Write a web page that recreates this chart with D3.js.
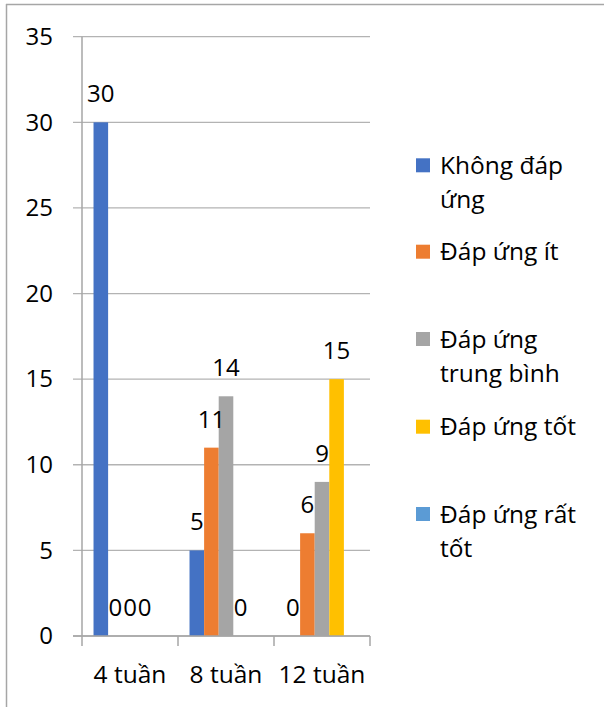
<!DOCTYPE html>
<html>
<head>
<meta charset="utf-8">
<script src="https://cdn.jsdelivr.net/npm/d3@7"></script>
<style>
  html, body { margin: 0; padding: 0; background: #fff; }
  svg { display: block; font-family: "Open Sans", sans-serif; }
</style>
</head>
<body>
<svg id="chart" width="604" height="707"></svg>
<script>
// Response to treatment at each follow-up point
const categories = ["4 tuần", "8 tuần", "12 tuần"];
const seriesNames = ["Không đáp ứng", "Đáp ứng ít", "Đáp ứng trung bình", "Đáp ứng tốt", "Đáp ứng rất tốt"];
const khongDapUng = [30, 5, 0];
const dapUngIt = [0, 11, 6];
const dapUngTrungBinh = [0, 14, 9];
const dapUngTot = [0, 0, 15];
const dapUngRatTot = [null, null, null];
const yTicks = [0, 5, 10, 15, 20, 25, 30, 35];
const colors = ["#4472C4", "#ED7D31", "#A5A5A5", "#FFC000", "#5B9BD5"];

const seriesValues = [khongDapUng, dapUngIt, dapUngTrungBinh, dapUngTot, dapUngRatTot];

const svg = d3.select("#chart");
const numSize = 24;
const textSize = 24.5;

// Outer frame (top and left edges)
svg.append("line").attr("x1", 6).attr("x2", 604).attr("y1", 4.5).attr("y2", 4.5)
  .attr("stroke", "#a6a6a6").attr("stroke-width", 1.5);
svg.append("line").attr("x1", 6.5).attr("x2", 6.5).attr("y1", 4).attr("y2", 707)
  .attr("stroke", "#a6a6a6").attr("stroke-width", 1.5);

const plot = { left: 82, right: 370, top: 36.7, bottom: 636 };

const x0 = d3.scaleBand().domain(categories)
  .range([plot.left, plot.right]).paddingInner(0.24).paddingOuter(0.12);
const x1 = d3.scaleBand().domain(d3.range(seriesNames.length))
  .range([0, x0.bandwidth()]);
const y = d3.scaleLinear().domain([0, 35]).range([plot.bottom, plot.top]);

// Gridlines, with the short outside tick to the left of the axis
svg.append("g").selectAll("line").data(yTicks).join("line")
  .attr("x1", plot.left - 9).attr("x2", plot.right)
  .attr("y1", d => y(d)).attr("y2", d => y(d))
  .attr("stroke", "#b3b3b3").attr("stroke-width", 1.3);

// Y axis labels
const yAxis = svg.append("g").attr("transform", `translate(${plot.left},0)`)
  .call(d3.axisLeft(y).tickValues(yTicks).tickSize(0).tickPadding(29));
yAxis.select(".domain").remove();
yAxis.selectAll("text").attr("font-size", numSize).attr("font-family", "Open Sans")
  .attr("fill", "#000");

// Bars
const groups = svg.append("g").selectAll("g").data(categories).join("g")
  .attr("transform", d => `translate(${x0(d)},0)`);

const cells = (c, ci) => seriesValues.map((vals, si) => ({ si, v: vals[ci] })).filter(d => d.v !== null);

groups.selectAll("rect").data(cells).join("rect")
  .attr("x", d => x1(d.si))
  .attr("width", x1.bandwidth())
  .attr("y", d => y(d.v))
  .attr("height", d => y(0) - y(d.v))
  .attr("fill", d => colors[d.si]);

// Value labels above each bar
groups.selectAll("text.val").data(cells).join("text")
  .attr("class", "val")
  .attr("x", d => x1(d.si) + x1.bandwidth() / 2)
  .attr("y", d => y(d.v) - 20)
  .attr("text-anchor", "middle")
  .attr("font-size", numSize)
  .attr("fill", "#000")
  .text(d => d.v);

// Y axis line
svg.append("line").attr("x1", plot.left).attr("x2", plot.left)
  .attr("y1", plot.top).attr("y2", plot.bottom)
  .attr("stroke", "#a6a6a6").attr("stroke-width", 1.5);

// X axis with category labels
const xAxis = svg.append("g").attr("transform", `translate(0,${plot.bottom})`)
  .call(d3.axisBottom(x0).tickSize(0).tickPadding(30));
xAxis.select(".domain").remove();
xAxis.selectAll("text").attr("font-size", textSize).attr("font-family", "Open Sans")
  .attr("fill", "#000");
svg.append("line").attr("x1", plot.left - 9).attr("x2", plot.right)
  .attr("y1", plot.bottom).attr("y2", plot.bottom)
  .attr("stroke", "#a6a6a6").attr("stroke-width", 1.5);

// Category divider ticks
const step = x0.step();
const dividers = d3.range(categories.length + 1).map(i => x0(categories[0]) - x0.paddingOuter() * step + i * step);
svg.append("g").selectAll("line").data(dividers).join("line")
  .attr("x1", d => d).attr("x2", d => d)
  .attr("y1", plot.bottom).attr("y2", plot.bottom + 10)
  .attr("stroke", "#a6a6a6").attr("stroke-width", 1.5);

// Legend
const legend = svg.append("g").attr("transform", "translate(416,0)");
const legendY = [165.3, 251.7, 339, 426.7, 514];
const wrapWidth = 150;
const lineHeight = 34;
seriesNames.forEach((name, i) => {
  const item = legend.append("g").attr("transform", `translate(0,${legendY[i]})`);
  item.append("rect").attr("x", 0).attr("y", -7).attr("width", 14).attr("height", 14)
    .attr("fill", colors[i]);
  const text = item.append("text").attr("x", 24).attr("font-size", textSize).attr("fill", "#000");
  const words = name.split(" ");
  let line = [];
  let lineNo = 0;
  let tspan = text.append("tspan").attr("x", 24).attr("y", 8.5);
  words.forEach(w => {
    line.push(w);
    tspan.text(line.join(" "));
    if (tspan.node().getComputedTextLength() > wrapWidth && line.length > 1) {
      line.pop();
      tspan.text(line.join(" "));
      line = [w];
      lineNo += 1;
      tspan = text.append("tspan").attr("x", 24).attr("y", 8.5 + lineNo * lineHeight).text(w);
    }
  });
});
</script>
</body>
</html>
